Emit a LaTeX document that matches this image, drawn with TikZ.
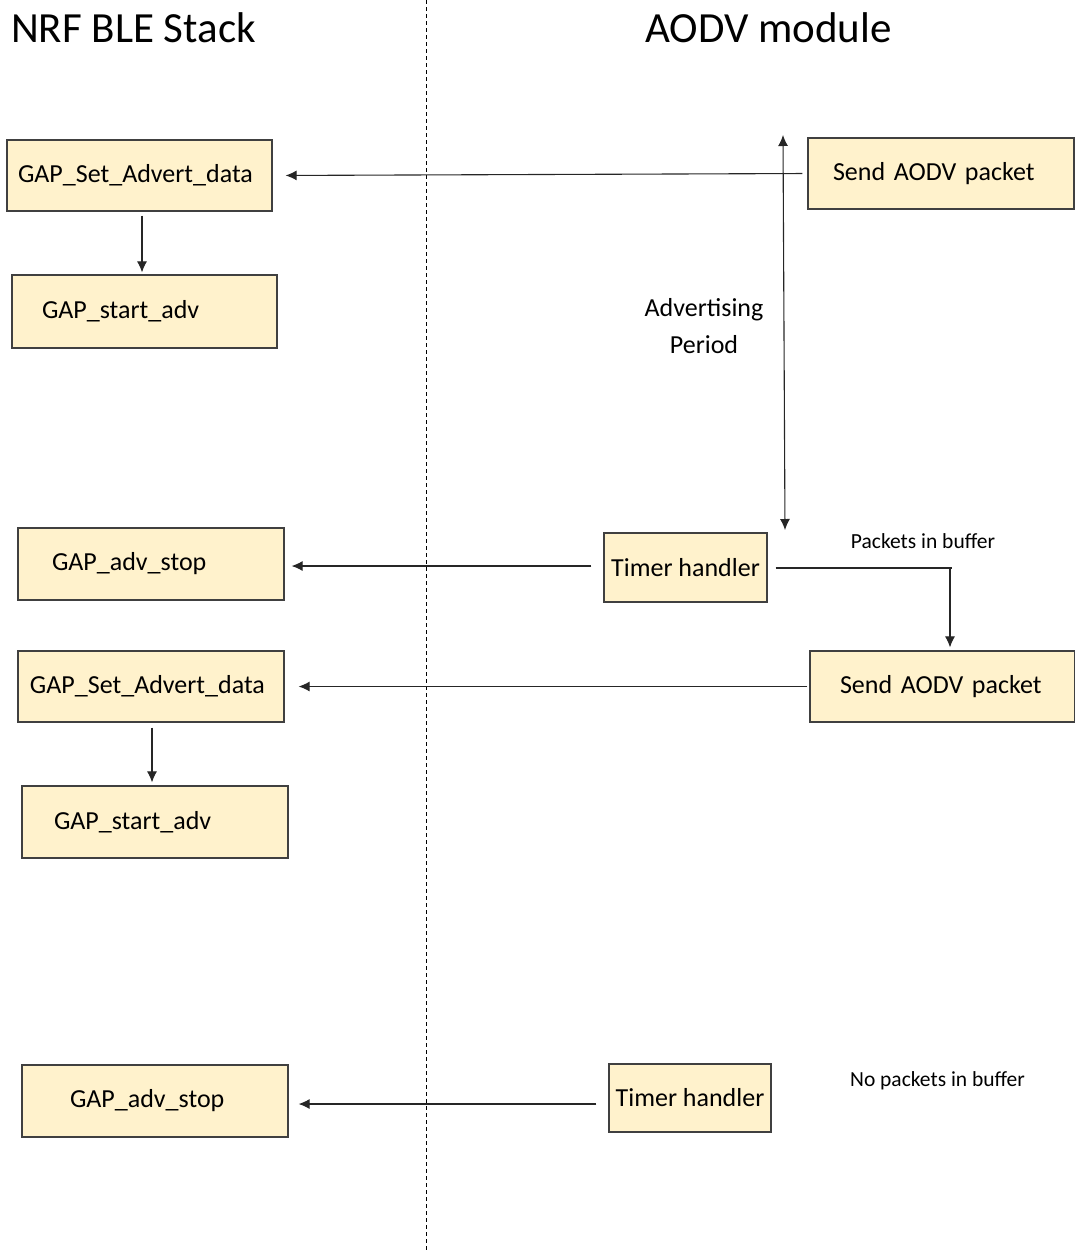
\documentclass[tikz,border=0pt]{standalone}
\usepackage{fontspec}
\setmainfont{Carlito}
\usepackage{tikz}
\usetikzlibrary{arrows.meta}
\definecolor{boxfill}{HTML}{FFF2CC}
\definecolor{boxline}{HTML}{404040}

\begin{document}
\begin{tikzpicture}[x=1pt, y=-1pt,
    stepbox/.style={draw=boxline, fill=boxfill, line width=1.2pt, inner ysep=0pt, align=left, font=\fontsize{26}{31}\selectfont},
    flow/.style={-{Latex[length=11pt,width=10pt]}, line width=1.1pt, black!85},
    note/.style={font=\fontsize{21.5}{26}\selectfont}]
    \useasboundingbox (0,0) rectangle (1075,1251);

    % Titles and separator
    \node[font=\fontsize{43}{50}\selectfont] (tble) at (133.5,28) {NRF BLE Stack};
    \node[font=\fontsize{43}{50}\selectfont] (taodv) at (768.5,28) {AODV module};
    \draw[dash pattern=on 4pt off 3pt, line width=0.8pt] (426,0) -- (426,1251);

    % NRF BLE stack side
    \node[stepbox, minimum height=71pt, inner xsep=11pt, text width=243pt] (b1) at (139.5,175.5) {GAP\_Set\_Advert\_data};
    \node[stepbox, minimum height=73pt, inner xsep=30pt, text width=205pt] (b2) at (144.5,311.5) {GAP\_start\_adv};
    \node[stepbox, minimum height=72pt, inner xsep=34pt, text width=198pt] (b3) at (151,564) {GAP\_adv\_stop};
    \node[stepbox, minimum height=71pt, inner xsep=12pt, text width=242pt] (b4) at (151,686.5) {GAP\_Set\_Advert\_data};
    \node[stepbox, minimum height=72pt, inner xsep=32pt, text width=202pt] (b5) at (155,822) {GAP\_start\_adv};
    \node[stepbox, minimum height=72pt, inner xsep=48pt, text width=170pt] (b6) at (155,1101) {GAP\_adv\_stop};

    % AODV module side
    \node[stepbox, minimum height=71pt, inner xsep=25pt, text width=216pt] (a1) at (941,173.5) {Send AODV packet};
    \node[stepbox, minimum height=69pt, minimum width=163pt, align=center] (a2) at (685.5,567.5) {Timer handler};
    \node[stepbox, minimum height=71pt, inner xsep=30pt, text width=205pt] (a3) at (942.5,686.5) {Send AODV packet};
    \node[stepbox, minimum height=68pt, minimum width=162pt, align=center] (a4) at (690,1098) {Timer handler};

    % Advertising period
    \coordinate (ptop) at (783,135);
    \coordinate (pbot) at (785,530);
    \draw[{Latex[length=11pt,width=10pt]}-{Latex[length=11pt,width=10pt]}, line width=1.1pt, black!85] (ptop) -- (pbot);
    \node[align=center, font=\fontsize{26}{37}\selectfont] (period) at (704,326) {Advertising\\Period};

    % Calls
    \draw[flow, shorten <=5pt, shorten >=13pt] (a1.west) -- (b1.east);
    \draw[flow, shorten <=4pt, shorten >=2pt] ([xshift=2.5pt]b1.south) -- ([xshift=-2.5pt]b2.north);
    \draw[flow, shorten <=12pt, shorten >=7pt] ([yshift=1.5pt]a2.west) -- ([yshift=-2pt]b3.east);
    \draw[flow, shorten <=2pt, shorten >=14pt] (a3.west) -- (b4.east);
    \draw[flow, shorten <=5pt, shorten >=3pt] ([xshift=1pt]b4.south) -- ([xshift=-3pt]b5.north);
    \draw[flow, shorten <=12pt, shorten >=10pt] ([yshift=-6pt]a4.west) -- ([yshift=-3pt]b6.east);

    % Timer to next packet
    \coordinate (bend) at (950,568);
    \draw[line width=1.1pt, black!85, shorten <=8pt] (a2.east |- bend) -- ([xshift=2pt]bend);
    \draw[flow, shorten >=3pt] (bend) -- (bend |- a3.north);

    \node[note] (lbuf) at (923,541) {Packets in buffer};
    \node[note] (lnobuf) at (937.5,1081) {No packets in buffer};
\end{tikzpicture}
\end{document}
